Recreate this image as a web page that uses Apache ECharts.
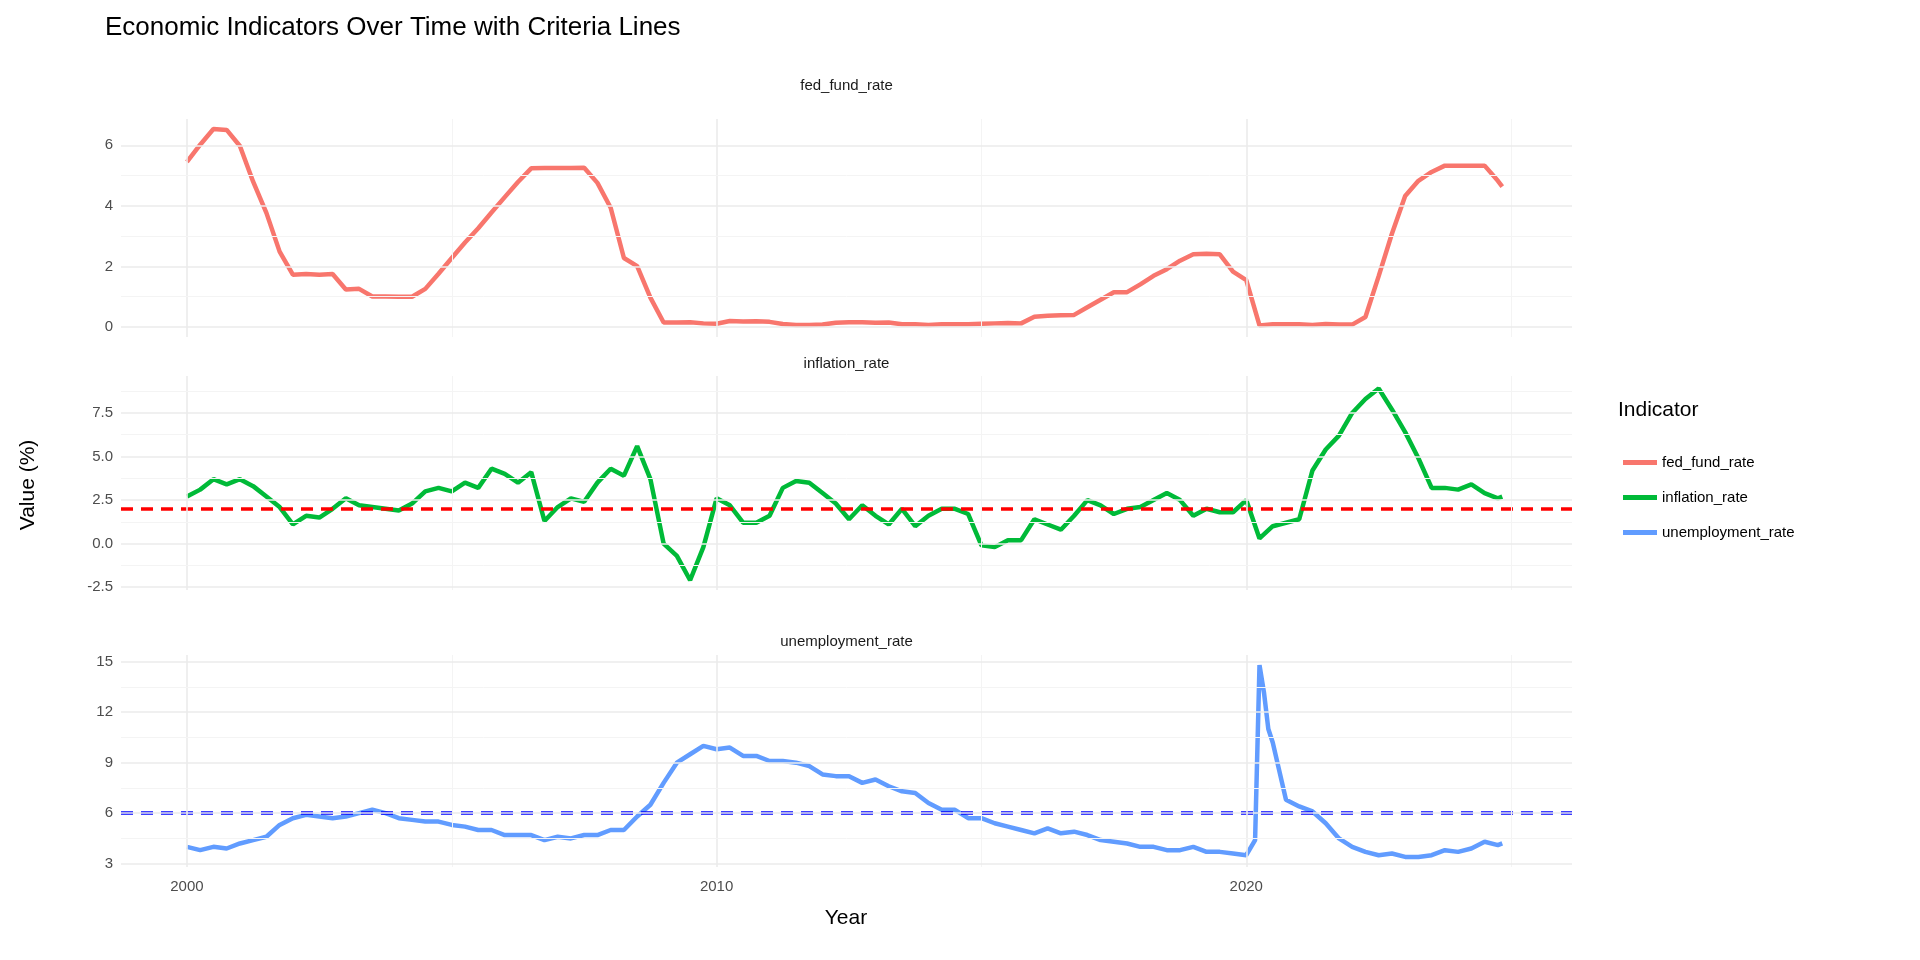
<!DOCTYPE html>
<html>
<head>
<meta charset="utf-8">
<script src="https://cdn.jsdelivr.net/npm/echarts@6/dist/echarts.min.js"></script>
<style>html,body{margin:0;padding:0;background:#fff}#chart{width:1920px;height:960px}</style>
</head>
<body>
<div id="chart"></div>
<script>
// quarterly observations (Jan, Apr, Jul, Oct) 2000 .. 2024, plus Nov 2024
var quarterDates = [];
for (var y = 2000; y <= 2024; y++) {
	['01','04','07','10'].forEach(function (m) { quarterDates.push(y + '-' + m); });
}
quarterDates.push('2024-11');

var fedFundRate = [
	5.45, 6.02, 6.54, 6.51,  5.98, 4.80, 3.77, 2.49,  1.73, 1.75, 1.73, 1.75,
	1.24, 1.26, 1.01, 1.01,  1.00, 1.00, 1.26, 1.76,  2.28, 2.79, 3.26, 3.78,
	4.29, 4.79, 5.24, 5.25,  5.25, 5.25, 5.26, 4.76,  3.94, 2.28, 2.01, 0.97,
	0.15, 0.15, 0.16, 0.12,  0.11, 0.20, 0.18, 0.19,  0.17, 0.10, 0.07, 0.07,
	0.08, 0.14, 0.16, 0.16,  0.14, 0.15, 0.09, 0.09,  0.07, 0.09, 0.09, 0.09,
	0.11, 0.12, 0.13, 0.12,  0.34, 0.37, 0.39, 0.40,  0.65, 0.90, 1.15, 1.15,
	1.41, 1.69, 1.91, 2.19,  2.40, 2.42, 2.40, 1.83,  1.55, 0.05, 0.09, 0.09,
	0.09, 0.07, 0.10, 0.08,  0.08, 0.33, 1.68, 3.08,  4.33, 4.83, 5.12, 5.33,
	5.33, 5.33, 5.33, 4.83,  4.64
];
var inflationRate = [
	2.7, 3.1, 3.7, 3.4,  3.7, 3.3, 2.7, 2.1,  1.1, 1.6, 1.5, 2.0,
	2.6, 2.2, 2.1, 2.0,  1.9, 2.3, 3.0, 3.2,  3.0, 3.5, 3.2, 4.3,
	4.0, 3.5, 4.1, 1.3,  2.1, 2.6, 2.4, 3.5,  4.3, 3.9, 5.6, 3.7,
	0.0, -0.7, -2.1, -0.2,  2.6, 2.2, 1.2, 1.2,  1.6, 3.2, 3.6, 3.5,
	2.9, 2.3, 1.4, 2.2,  1.6, 1.1, 2.0, 1.0,  1.6, 2.0, 2.0, 1.7,
	-0.1, -0.2, 0.2, 0.2,  1.4, 1.1, 0.8, 1.6,  2.5, 2.2, 1.7, 2.0,
	2.1, 2.5, 2.9, 2.5,  1.6, 2.0, 1.8, 1.8,  2.5, 0.3, 1.0, 1.2,
	1.4, 4.2, 5.4, 6.2,  7.5, 8.3, 8.9, 7.7,  6.4, 4.9, 3.2, 3.2,
	3.1, 3.4, 2.9, 2.6,  2.7
];
var unemploymentRate = [
	4.0, 3.8, 4.0, 3.9,  4.2, 4.4, 4.6, 5.3,  5.7, 5.9, 5.8, 5.7,
	5.8, 6.0, 6.2, 6.0,  5.7, 5.6, 5.5, 5.5,  5.3, 5.2, 5.0, 5.0,
	4.7, 4.7, 4.7, 4.4,  4.6, 4.5, 4.7, 4.7,  5.0, 5.0, 5.8, 6.5,
	7.8, 9.0, 9.5, 10.0,  9.8, 9.9, 9.4, 9.4,  9.1, 9.1, 9.0, 8.8,
	8.3, 8.2, 8.2, 7.8,  8.0, 7.6, 7.3, 7.2,  6.6, 6.2, 6.2, 5.7,
	5.7, 5.4, 5.2, 5.0,  4.8, 5.1, 4.8, 4.9,  4.7, 4.4, 4.3, 4.2,
	4.0, 4.0, 3.8, 3.8,  4.0, 3.7, 3.7, 3.6,  3.5, 14.8, 10.2, 6.8,
	6.4, 6.1, 5.4, 4.5,  4.0, 3.7, 3.5, 3.6,  3.4, 3.4, 3.5, 3.8,
	3.7, 3.9, 4.3, 4.1,  4.2
];
// extra monthly points around the 2020 spike
var unempExtraDates = ['2020-03', '2020-05', '2020-06'];
var unempExtraValues = [4.4, 13.2, 11.0];

var names = ['fed_fund_rate', 'inflation_rate', 'unemployment_rate'];
var colors = ['#F8766D', '#00BA38', '#619CFF'];
var xTicks = [2000, 2010, 2020];
var xMinorTicks = [2005, 2015, 2025];
var yTicks = [[0, 2, 4, 6], [-2.5, 0, 2.5, 5, 7.5], [3, 6, 9, 12, 15]];
var yMinorTicks = [[1, 3, 5], [-1.25, 1.25, 3.75, 6.25, 8.75], [4.5, 7.5, 10.5, 13.5]];

function toYear(d) {
	var p = d.split('-');
	return +p[0] + (+p[1] - 1) / 12;
}
function pairs(dates, values) {
	return dates.map(function (d, i) { return [toYear(d), values[i]]; });
}
var unempData = pairs(quarterDates, unemploymentRate)
	.concat(pairs(unempExtraDates, unempExtraValues))
	.sort(function (a, b) { return a[0] - b[0]; });

var chart = echarts.init(document.getElementById('chart'));
var grids = [
	{left: 121, right: 348, top: 119, height: 218},
	{left: 121, right: 348, top: 376, height: 214},
	{left: 121, right: 348, top: 655, height: 212}
];
var yRange = [
	{min: -0.33, max: 6.87},
	{min: -2.66, max: 9.62},
	{min: 2.8, max: 15.4}
];
var font = 'Liberation Sans';

var xAxes = grids.map(function (g, i) {
	return {
		type: 'value', gridIndex: i, min: 1998.755, max: 2026.15,
		axisLine: {show: false}, axisTick: {show: false}, splitLine: {show: false},
		axisLabel: {
			show: i === 2, margin: 12, customValues: xTicks,
			color: '#4D4D4D', fontSize: 15, fontFamily: font,
			formatter: function (v) { return String(Math.round(v)); }
		}
	};
});
var yAxes = grids.map(function (g, i) {
	return {
		type: 'value', gridIndex: i, min: yRange[i].min, max: yRange[i].max,
		axisLine: {show: false}, axisTick: {show: false}, splitLine: {show: false},
		axisLabel: {
			customValues: yTicks[i], margin: 8,
			color: '#4D4D4D', fontSize: 15, fontFamily: font,
			formatter: function (v) { return i === 1 ? v.toFixed(1) : String(v); }
		}
	};
});

// grid lines drawn as markLines on an empty series per panel
function gridLines(i) {
	var d = [];
	xTicks.forEach(function (v) { d.push({xAxis: v, lineStyle: {color: '#EBEBEB', width: 1.6}}); });
	xMinorTicks.forEach(function (v) { d.push({xAxis: v, lineStyle: {color: '#F4F4F4', width: 1}}); });
	yTicks[i].forEach(function (v) { d.push({yAxis: v, lineStyle: {color: '#EBEBEB', width: 1.6}}); });
	yMinorTicks[i].forEach(function (v) { d.push({yAxis: v, lineStyle: {color: '#F4F4F4', width: 1}}); });
	return {
		type: 'line', xAxisIndex: i, yAxisIndex: i, data: [], silent: true, z: 1,
		markLine: {silent: true, symbol: 'none', label: {show: false}, animation: false,
			lineStyle: {type: 'solid'}, emphasis: {disabled: true}, data: d}
	};
}

var seriesData = [pairs(quarterDates, fedFundRate), pairs(quarterDates, inflationRate), unempData];
var series = seriesData.map(function (d, i) {
	return {
		name: names[i], type: 'line', xAxisIndex: i, yAxisIndex: i, data: d,
		showSymbol: false, symbol: 'none', lineStyle: {color: colors[i], width: 4.5},
		itemStyle: {color: colors[i]}, z: 3
	};
});
series[1].markLine = {
	silent: true, symbol: 'none', label: {show: false},
	lineStyle: {color: '#FF0000', type: [12, 8], width: 3.5},
	data: [{yAxis: 2}]
};
series[2].markLine = {
	silent: true, symbol: 'none', label: {show: false},
	lineStyle: {color: '#0000FF', type: [12, 8], width: 3.5},
	data: [{yAxis: 6}]
};
series = series.concat([gridLines(0), gridLines(1), gridLines(2)]);

var stripText = function (t, y) {
	return {type: 'text', x: 121 + (1572 - 121) / 2, y: y,
		style: {text: t, fill: '#1A1A1A', font: '15px Liberation Sans', textAlign: 'center'}};
};

chart.setOption({
	animation: false,
	title: {text: 'Economic Indicators Over Time with Criteria Lines', left: 100, top: 10,
		textStyle: {fontSize: 26, fontWeight: 'normal', color: '#000', fontFamily: font}},
	grid: grids,
	xAxis: xAxes,
	yAxis: yAxes,
	legend: {
		orient: 'vertical', left: 1618, top: 450, itemGap: 20,
		icon: 'rect', itemWidth: 34, itemHeight: 5,
		textStyle: {fontSize: 15, color: '#000', fontFamily: font},
		data: names
	},
	graphic: [
		{type: 'text', left: 1618, top: 400, style: {text: 'Indicator', fill: '#000', font: '21px Liberation Sans'}},
		stripText('fed_fund_rate', 78),
		stripText('inflation_rate', 356),
		stripText('unemployment_rate', 634),
		{type: 'text', x: 846, y: 908, style: {text: 'Year', fill: '#000', font: '21px Liberation Sans', textAlign: 'center'}},
		{type: 'text', x: 28, y: 485, rotation: Math.PI / 2,
			style: {text: 'Value (%)', fill: '#000', font: '21px Liberation Sans', textAlign: 'center', textVerticalAlign: 'middle'}}
	],
	series: series
});
</script>
</body>
</html>
